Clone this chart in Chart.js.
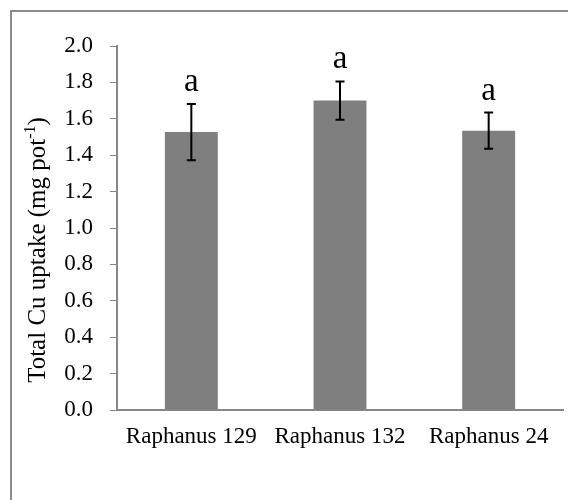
<!DOCTYPE html>
<html>
<head>
<meta charset="utf-8">
<script src="https://cdn.jsdelivr.net/npm/chart.js@4.4.1/dist/chart.umd.min.js"></script>
<style>
  html, body { margin: 0; padding: 0; background: #ffffff; }
  #wrap { width: 568px; height: 500px; position: relative; }
</style>
</head>
<body>
<div id="wrap"><canvas id="chart"></canvas></div>
<script>
// Cultivars and their total Cu uptake (mg pot-1), mean ± error
const categories = ['Raphanus 129', 'Raphanus 132', 'Raphanus 24'];
const uptake = [1.527, 1.700, 1.535];
const uptakeError = [0.155, 0.105, 0.099];
const letters = ['a', 'a', 'a'];
const yTicks = [0, 0.2, 0.4, 0.6, 0.8, 1.0, 1.2, 1.4, 1.6, 1.8, 2.0];

const SERIF = 'Liberation Serif';
const AXIS_GREY = '#878787';

Chart.defaults.font.family = SERIF;
Chart.defaults.color = '#000000';

// Outer frame, error bars, significance letters and the rotated axis title
const extras = {
  id: 'extras',
  beforeDraw(chart) {
    const ctx = chart.ctx;
    ctx.save();
    ctx.strokeStyle = '#8c8c8c';
    ctx.lineWidth = 2;
    ctx.beginPath();
    ctx.moveTo(11, chart.height + 2);
    ctx.lineTo(11, 11);
    ctx.lineTo(chart.width + 2, 11);
    ctx.stroke();
    ctx.restore();
  },
  afterDatasetsDraw(chart) {
    const ctx = chart.ctx;
    const y = chart.scales.y;
    const meta = chart.getDatasetMeta(0);
    ctx.save();
    ctx.strokeStyle = '#000000';
    ctx.lineWidth = 2;
    meta.data.forEach((bar, i) => {
      const x = bar.x;
      const hi = y.getPixelForValue(uptake[i] + uptakeError[i]);
      const lo = y.getPixelForValue(uptake[i] - uptakeError[i]);
      ctx.beginPath();
      ctx.moveTo(x, hi); ctx.lineTo(x, lo);
      ctx.moveTo(x - 4.5, hi); ctx.lineTo(x + 4.5, hi);
      ctx.moveTo(x - 4.5, lo); ctx.lineTo(x + 4.5, lo);
      ctx.stroke();
      ctx.fillStyle = '#000000';
      ctx.font = '33px "' + SERIF + '"';
      ctx.textAlign = 'center';
      ctx.textBaseline = 'alphabetic';
      ctx.fillText(letters[i], x, hi - 13);
    });
    ctx.restore();

    // y-axis title with superscript
    ctx.save();
    ctx.translate(38, 250);
    ctx.rotate(-Math.PI / 2);
    ctx.fillStyle = '#000000';
    ctx.textBaseline = 'middle';
    const main = 'Total Cu uptake (mg pot';
    const sup = '-1';
    const tail = ')';
    const big = '25px "' + SERIF + '"';
    const small = '16px "' + SERIF + '"';
    ctx.font = big;
    const wMain = ctx.measureText(main).width;
    const wTail = ctx.measureText(tail).width;
    ctx.font = small;
    const wSup = ctx.measureText(sup).width;
    let x0 = -(wMain + wSup + wTail) / 2;
    ctx.textAlign = 'left';
    ctx.font = big;
    ctx.fillText(main, x0, 0);
    ctx.font = small;
    ctx.fillText(sup, x0 + wMain, -7);
    ctx.font = big;
    ctx.fillText(tail, x0 + wMain + wSup, 0);
    ctx.restore();
  }
};

new Chart(document.getElementById('chart'), {
  type: 'bar',
  data: {
    labels: categories,
    datasets: [{
      data: uptake,
      backgroundColor: '#7f7f7f',
      borderWidth: 0,
      barPercentage: 0.356,
      categoryPercentage: 1.0
    }]
  },
  options: {
    responsive: true,
    maintainAspectRatio: false,
    animation: false,
    layout: { padding: { top: 46, right: 5, bottom: 0, left: 0 } },
    plugins: {
      legend: { display: false },
      tooltip: { enabled: false }
    },
    scales: {
      x: {
        grid: { display: false, drawTicks: false },
        border: { display: true, color: AXIS_GREY, width: 2 },
        ticks: {
          color: '#000000',
          padding: 13,
          maxRotation: 0,
          autoSkip: false,
          font: { family: SERIF, size: 23 }
        },
        afterFit(scale) { scale.height = 90; }
      },
      y: {
        min: 0,
        max: 2,
        afterBuildTicks(scale) { scale.ticks = yTicks.map(v => ({ value: v })); },
        grid: {
          drawOnChartArea: false,
          drawTicks: true,
          tickLength: 7,
          color: AXIS_GREY,
          lineWidth: 1
        },
        border: { display: true, color: AXIS_GREY, width: 2 },
        ticks: {
          color: '#000000',
          padding: 17,
          font: { family: SERIF, size: 23 },
          callback: v => Number(v).toFixed(1)
        },
        afterFit(scale) { scale.width = 117; }
      }
    }
  },
  plugins: [extras]
});
</script>
</body>
</html>
